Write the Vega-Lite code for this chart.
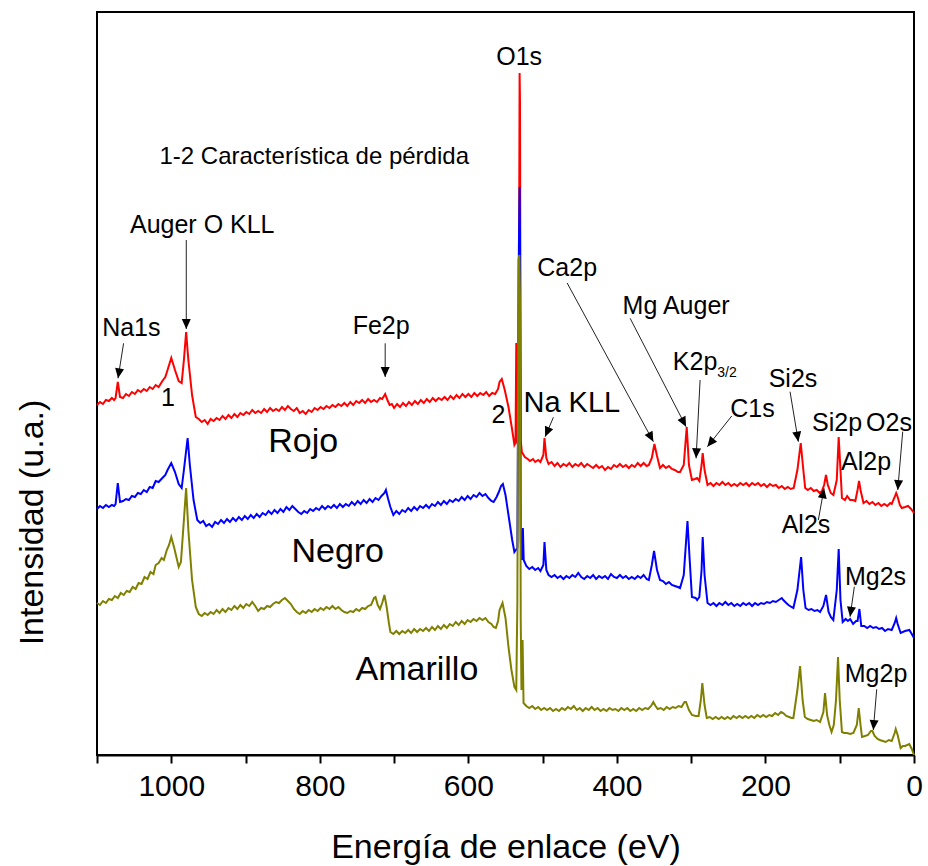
{
 "$schema": "https://vega.github.io/schema/vega-lite/v6.json",
 "width": 817,
 "height": 743,
 "autosize": {"type": "none"},
 "padding": {"left": 97, "top": 12, "right": 14, "bottom": 111},
 "background": "white",
 "config": {
  "view": {"stroke": "black", "strokeWidth": 2},
  "font": "Liberation Sans",
  "axis": {"grid": false}
 },
 "datasets": {
  "rojo": [
   {"E":1100,"I":350},{"E":1096,"I":353},{"E":1092,"I":351},{"E":1088,"I":355},{"E":1084,"I":354},{"E":1080,"I":357},{"E":1077,"I":355},{"E":1075,"I":357},{"E":1072,"I":373},{"E":1069,"I":358},{"E":1065,"I":357},{"E":1061,"I":361},{"E":1057,"I":359},{"E":1053,"I":363},{"E":1049,"I":361},{"E":1045,"I":365},{"E":1041,"I":363},{"E":1037,"I":366},{"E":1033,"I":364},{"E":1029,"I":368},{"E":1025,"I":366},{"E":1021,"I":370},{"E":1017,"I":368},{"E":1012,"I":374},{"E":1008,"I":378},{"E":1005,"I":385},{"E":1000,"I":397},{"E":995,"I":385},{"E":990,"I":374},{"E":986,"I":372},{"E":983,"I":395},{"E":980,"I":423},{"E":977,"I":395},{"E":972,"I":360},{"E":967,"I":338},{"E":963,"I":336},{"E":959,"I":333},{"E":955,"I":335},{"E":951,"I":331},{"E":947,"I":336},{"E":943,"I":334},{"E":939,"I":337},{"E":935,"I":335},{"E":931,"I":339},{"E":927,"I":336},{"E":923,"I":340},{"E":919,"I":337},{"E":915,"I":341},{"E":911,"I":338},{"E":907,"I":342},{"E":903,"I":340},{"E":899,"I":343},{"E":895,"I":341},{"E":891,"I":345},{"E":887,"I":342},{"E":883,"I":344},{"E":879,"I":342},{"E":875,"I":346},{"E":871,"I":343},{"E":867,"I":347},{"E":863,"I":344},{"E":859,"I":346},{"E":855,"I":344},{"E":851,"I":348},{"E":847,"I":345},{"E":843,"I":349},{"E":839,"I":346},{"E":835,"I":344},{"E":831,"I":347},{"E":827,"I":342},{"E":823,"I":344},{"E":819,"I":341},{"E":815,"I":345},{"E":811,"I":343},{"E":807,"I":347},{"E":803,"I":345},{"E":799,"I":348},{"E":795,"I":346},{"E":791,"I":349},{"E":787,"I":347},{"E":783,"I":350},{"E":779,"I":348},{"E":775,"I":351},{"E":771,"I":349},{"E":767,"I":352},{"E":763,"I":349},{"E":759,"I":353},{"E":755,"I":350},{"E":751,"I":354},{"E":747,"I":352},{"E":743,"I":355},{"E":739,"I":352},{"E":735,"I":356},{"E":731,"I":353},{"E":727,"I":355},{"E":723,"I":353},{"E":719,"I":357},{"E":716,"I":356},{"E":712,"I":361},{"E":709,"I":355},{"E":706,"I":350},{"E":703,"I":351},{"E":700,"I":347},{"E":696,"I":351},{"E":692,"I":348},{"E":688,"I":352},{"E":684,"I":349},{"E":680,"I":353},{"E":676,"I":350},{"E":672,"I":354},{"E":668,"I":351},{"E":664,"I":355},{"E":660,"I":352},{"E":656,"I":356},{"E":652,"I":353},{"E":648,"I":357},{"E":644,"I":354},{"E":640,"I":357},{"E":636,"I":355},{"E":632,"I":358},{"E":628,"I":355},{"E":624,"I":359},{"E":620,"I":356},{"E":616,"I":360},{"E":612,"I":357},{"E":608,"I":361},{"E":604,"I":358},{"E":600,"I":361},{"E":596,"I":358},{"E":592,"I":362},{"E":588,"I":359},{"E":584,"I":362},{"E":580,"I":360},{"E":576,"I":363},{"E":572,"I":359},{"E":568,"I":362},{"E":564,"I":361},{"E":560,"I":366},{"E":558,"I":373},{"E":555,"I":376},{"E":551,"I":365},{"E":546,"I":348},{"E":541,"I":325},{"E":538,"I":310},{"E":536.5,"I":312},{"E":535.5,"I":412},{"E":534.5,"I":315},{"E":533,"I":310},{"E":531.5,"I":555},{"E":531,"I":682},{"E":530.5,"I":655},{"E":529.5,"I":315},{"E":528,"I":303},{"E":524,"I":298},{"E":520,"I":296},{"E":517,"I":294},{"E":513,"I":296},{"E":510,"I":293},{"E":506,"I":295},{"E":503,"I":293},{"E":499,"I":300},{"E":497.5,"I":317},{"E":495,"I":297},{"E":492,"I":291},{"E":488,"I":293},{"E":484,"I":289},{"E":480,"I":292},{"E":476,"I":288},{"E":472,"I":291},{"E":468,"I":289},{"E":464,"I":292},{"E":460,"I":288},{"E":456,"I":291},{"E":452,"I":289},{"E":448,"I":292},{"E":444,"I":288},{"E":440,"I":291},{"E":436,"I":289},{"E":432,"I":287},{"E":428,"I":290},{"E":424,"I":287},{"E":420,"I":289},{"E":416,"I":285},{"E":412,"I":288},{"E":408,"I":286},{"E":404,"I":290},{"E":400,"I":288},{"E":396,"I":291},{"E":392,"I":288},{"E":388,"I":290},{"E":384,"I":287},{"E":380,"I":290},{"E":376,"I":288},{"E":372,"I":292},{"E":368,"I":289},{"E":364,"I":292},{"E":360,"I":289},{"E":357,"I":290},{"E":353,"I":297},{"E":349.5,"I":311},{"E":346,"I":299},{"E":342,"I":287},{"E":338,"I":290},{"E":334,"I":287},{"E":330,"I":289},{"E":326,"I":286},{"E":322,"I":285},{"E":318,"I":283},{"E":315,"I":283},{"E":310,"I":290},{"E":306,"I":328},{"E":303,"I":290},{"E":299,"I":275},{"E":295,"I":276},{"E":292,"I":277},{"E":289,"I":274},{"E":286,"I":290},{"E":284.5,"I":302},{"E":282,"I":285},{"E":278,"I":270},{"E":274,"I":272},{"E":270,"I":269},{"E":266,"I":272},{"E":262,"I":270},{"E":258,"I":273},{"E":254,"I":270},{"E":250,"I":272},{"E":246,"I":269},{"E":242,"I":271},{"E":238,"I":269},{"E":234,"I":272},{"E":230,"I":270},{"E":226,"I":272},{"E":222,"I":269},{"E":218,"I":272},{"E":214,"I":270},{"E":210,"I":272},{"E":206,"I":269},{"E":202,"I":271},{"E":198,"I":268},{"E":194,"I":271},{"E":190,"I":269},{"E":186,"I":270},{"E":182,"I":267},{"E":178,"I":269},{"E":174,"I":266},{"E":170,"I":268},{"E":166,"I":266},{"E":162,"I":267},{"E":157,"I":285},{"E":152.5,"I":312},{"E":149,"I":285},{"E":146.5,"I":267},{"E":143,"I":265},{"E":139,"I":267},{"E":135,"I":264},{"E":131,"I":265},{"E":127,"I":262},{"E":124,"I":264},{"E":121,"I":270},{"E":118.5,"I":280},{"E":116,"I":270},{"E":112,"I":262},{"E":108.5,"I":260},{"E":104,"I":275},{"E":101.4,"I":318},{"E":99,"I":285},{"E":97,"I":257},{"E":93,"I":255},{"E":90,"I":259},{"E":88,"I":257},{"E":86,"I":255},{"E":82,"I":255},{"E":79,"I":254},{"E":76,"I":265},{"E":74,"I":274},{"E":72,"I":265},{"E":68,"I":252},{"E":64,"I":254},{"E":60,"I":251},{"E":56,"I":253},{"E":52,"I":250},{"E":48,"I":252},{"E":44,"I":249},{"E":40,"I":251},{"E":36,"I":249},{"E":32,"I":252},{"E":30,"I":251},{"E":26,"I":258},{"E":24,"I":262},{"E":22,"I":258},{"E":19,"I":250},{"E":16.5,"I":247},{"E":12,"I":248},{"E":8,"I":249},{"E":4,"I":246},{"E":0,"I":242}
  ],
  "negro": [
   {"E":1100,"I":246},{"E":1096,"I":249},{"E":1092,"I":247},{"E":1088,"I":250},{"E":1084,"I":248},{"E":1080,"I":250},{"E":1077,"I":249},{"E":1075,"I":251},{"E":1072,"I":272},{"E":1069,"I":253},{"E":1065,"I":254},{"E":1061,"I":256},{"E":1057,"I":255},{"E":1053,"I":259},{"E":1049,"I":258},{"E":1045,"I":262},{"E":1041,"I":261},{"E":1037,"I":265},{"E":1033,"I":263},{"E":1029,"I":268},{"E":1025,"I":267},{"E":1021,"I":274},{"E":1017,"I":273},{"E":1012,"I":277},{"E":1008,"I":280},{"E":1005,"I":285},{"E":1000,"I":292},{"E":995,"I":283},{"E":990,"I":271},{"E":986,"I":267},{"E":983,"I":285},{"E":978,"I":317},{"E":975,"I":290},{"E":970,"I":255},{"E":965,"I":235},{"E":961,"I":232},{"E":957,"I":234},{"E":953,"I":229},{"E":949,"I":231},{"E":945,"I":228},{"E":941,"I":233},{"E":937,"I":231},{"E":933,"I":235},{"E":929,"I":232},{"E":925,"I":236},{"E":921,"I":233},{"E":917,"I":237},{"E":913,"I":234},{"E":909,"I":238},{"E":905,"I":235},{"E":901,"I":239},{"E":897,"I":236},{"E":893,"I":240},{"E":889,"I":237},{"E":885,"I":241},{"E":881,"I":238},{"E":877,"I":242},{"E":873,"I":240},{"E":869,"I":244},{"E":865,"I":241},{"E":861,"I":245},{"E":857,"I":242},{"E":853,"I":246},{"E":849,"I":243},{"E":845,"I":248},{"E":841,"I":245},{"E":837,"I":249},{"E":833,"I":246},{"E":829,"I":243},{"E":825,"I":241},{"E":821,"I":244},{"E":817,"I":242},{"E":813,"I":246},{"E":809,"I":244},{"E":805,"I":247},{"E":801,"I":245},{"E":797,"I":249},{"E":793,"I":246},{"E":789,"I":249},{"E":785,"I":247},{"E":781,"I":250},{"E":777,"I":247},{"E":773,"I":251},{"E":769,"I":248},{"E":765,"I":251},{"E":761,"I":249},{"E":757,"I":253},{"E":753,"I":250},{"E":749,"I":254},{"E":745,"I":251},{"E":741,"I":255},{"E":737,"I":252},{"E":733,"I":256},{"E":729,"I":253},{"E":725,"I":257},{"E":721,"I":255},{"E":717,"I":259},{"E":713,"I":262},{"E":711,"I":265},{"E":708,"I":256},{"E":705,"I":248},{"E":701,"I":240},{"E":697,"I":244},{"E":693,"I":241},{"E":689,"I":245},{"E":685,"I":243},{"E":681,"I":247},{"E":677,"I":244},{"E":673,"I":248},{"E":669,"I":245},{"E":665,"I":249},{"E":661,"I":247},{"E":657,"I":250},{"E":653,"I":247},{"E":649,"I":251},{"E":645,"I":249},{"E":641,"I":253},{"E":637,"I":250},{"E":633,"I":254},{"E":629,"I":251},{"E":625,"I":255},{"E":621,"I":253},{"E":617,"I":256},{"E":613,"I":254},{"E":609,"I":258},{"E":605,"I":255},{"E":601,"I":259},{"E":597,"I":256},{"E":593,"I":260},{"E":589,"I":258},{"E":585,"I":262},{"E":581,"I":259},{"E":577,"I":261},{"E":573,"I":257},{"E":569,"I":254},{"E":566,"I":253},{"E":562,"I":258},{"E":559,"I":263},{"E":556,"I":269},{"E":553.5,"I":271},{"E":550,"I":260},{"E":545,"I":235},{"E":541,"I":215},{"E":538,"I":203},{"E":536,"I":205},{"E":534,"I":207},{"E":532,"I":505},{"E":531,"I":568},{"E":530.5,"I":525},{"E":529.5,"I":215},{"E":528,"I":195},{"E":526.6,"I":227},{"E":525.5,"I":195},{"E":522,"I":189},{"E":518,"I":186},{"E":514,"I":188},{"E":510,"I":185},{"E":506,"I":187},{"E":503,"I":184},{"E":499,"I":190},{"E":497.5,"I":213},{"E":495,"I":185},{"E":492,"I":180},{"E":488,"I":178},{"E":484,"I":180},{"E":480,"I":177},{"E":476,"I":179},{"E":472,"I":176},{"E":468,"I":179},{"E":464,"I":177},{"E":460,"I":180},{"E":456,"I":178},{"E":452,"I":182},{"E":448,"I":178},{"E":444,"I":176},{"E":440,"I":179},{"E":436,"I":177},{"E":432,"I":180},{"E":428,"I":176},{"E":424,"I":179},{"E":420,"I":177},{"E":416,"I":179},{"E":412,"I":176},{"E":408,"I":181},{"E":404,"I":178},{"E":400,"I":177},{"E":396,"I":180},{"E":392,"I":177},{"E":388,"I":179},{"E":384,"I":176},{"E":380,"I":178},{"E":376,"I":176},{"E":372,"I":179},{"E":368,"I":177},{"E":364,"I":180},{"E":360,"I":176},{"E":357,"I":175},{"E":353,"I":190},{"E":350,"I":204},{"E":346,"I":185},{"E":342,"I":175},{"E":338,"I":174},{"E":334,"I":171},{"E":330,"I":173},{"E":326,"I":170},{"E":322,"I":169},{"E":318,"I":168},{"E":315,"I":167},{"E":310,"I":180},{"E":305,"I":234},{"E":302,"I":195},{"E":299,"I":158},{"E":294,"I":157},{"E":292,"I":155},{"E":289,"I":158},{"E":286,"I":185},{"E":284.5,"I":218},{"E":282,"I":180},{"E":278,"I":152},{"E":274,"I":150},{"E":270,"I":152},{"E":266,"I":149},{"E":262,"I":152},{"E":258,"I":150},{"E":254,"I":153},{"E":250,"I":150},{"E":246,"I":152},{"E":242,"I":149},{"E":238,"I":151},{"E":234,"I":149},{"E":230,"I":152},{"E":226,"I":150},{"E":222,"I":152},{"E":218,"I":149},{"E":214,"I":152},{"E":210,"I":150},{"E":206,"I":152},{"E":202,"I":151},{"E":198,"I":153},{"E":194,"I":152},{"E":190,"I":154},{"E":186,"I":153},{"E":182,"I":155},{"E":178,"I":157},{"E":176,"I":155},{"E":172,"I":152},{"E":169,"I":150},{"E":165,"I":148},{"E":162.4,"I":147},{"E":157,"I":165},{"E":152,"I":198},{"E":149,"I":165},{"E":146,"I":147},{"E":142,"I":145},{"E":138,"I":146},{"E":134,"I":144},{"E":130,"I":145},{"E":126.5,"I":143},{"E":122,"I":149},{"E":118.4,"I":160},{"E":115,"I":143},{"E":112,"I":138},{"E":108.6,"I":135},{"E":104,"I":165},{"E":101.4,"I":206},{"E":99,"I":155},{"E":96,"I":133},{"E":92,"I":136},{"E":89,"I":134},{"E":86,"I":136},{"E":82,"I":131},{"E":78,"I":134},{"E":76,"I":134},{"E":73.5,"I":146},{"E":71,"I":129},{"E":67,"I":129},{"E":63,"I":127},{"E":59,"I":129},{"E":55,"I":127},{"E":51,"I":128},{"E":47,"I":126},{"E":43,"I":127},{"E":39,"I":124},{"E":35,"I":126},{"E":30,"I":125},{"E":26,"I":132},{"E":24,"I":137},{"E":22,"I":131},{"E":18,"I":122},{"E":12,"I":124},{"E":6.3,"I":125},{"E":3,"I":121},{"E":0,"I":117}
  ],
  "amarillo": [
   {"E":1100,"I":152},{"E":1096,"I":150},{"E":1092,"I":154},{"E":1088,"I":152},{"E":1084,"I":156},{"E":1080,"I":155},{"E":1076,"I":159},{"E":1072,"I":157},{"E":1068,"I":162},{"E":1064,"I":160},{"E":1060,"I":164},{"E":1056,"I":163},{"E":1052,"I":168},{"E":1048,"I":166},{"E":1044,"I":172},{"E":1040,"I":171},{"E":1036,"I":178},{"E":1032,"I":176},{"E":1028,"I":183},{"E":1024,"I":181},{"E":1021,"I":190},{"E":1017,"I":192},{"E":1013,"I":197},{"E":1010,"I":195},{"E":1006,"I":205},{"E":1003,"I":210},{"E":1000,"I":218},{"E":996,"I":207},{"E":990,"I":188},{"E":987,"I":193},{"E":983,"I":235},{"E":980,"I":267},{"E":977,"I":225},{"E":972,"I":175},{"E":967,"I":148},{"E":963,"I":141},{"E":959,"I":139},{"E":955,"I":142},{"E":951,"I":140},{"E":947,"I":143},{"E":943,"I":141},{"E":939,"I":145},{"E":935,"I":142},{"E":931,"I":146},{"E":927,"I":143},{"E":923,"I":147},{"E":919,"I":145},{"E":915,"I":149},{"E":911,"I":146},{"E":907,"I":150},{"E":903,"I":147},{"E":899,"I":151},{"E":895,"I":149},{"E":891,"I":153},{"E":887,"I":149},{"E":883,"I":144},{"E":879,"I":147},{"E":875,"I":146},{"E":871,"I":149},{"E":867,"I":148},{"E":863,"I":151},{"E":859,"I":153},{"E":855,"I":152},{"E":851,"I":155},{"E":847,"I":157},{"E":843,"I":154},{"E":839,"I":151},{"E":835,"I":146},{"E":831,"I":143},{"E":827,"I":141},{"E":823,"I":144},{"E":819,"I":142},{"E":815,"I":145},{"E":811,"I":143},{"E":807,"I":146},{"E":803,"I":144},{"E":799,"I":147},{"E":795,"I":145},{"E":791,"I":148},{"E":787,"I":146},{"E":783,"I":149},{"E":779,"I":146},{"E":775,"I":148},{"E":771,"I":145},{"E":767,"I":143},{"E":763,"I":142},{"E":759,"I":144},{"E":755,"I":143},{"E":751,"I":146},{"E":747,"I":144},{"E":743,"I":147},{"E":739,"I":146},{"E":735,"I":149},{"E":731,"I":150},{"E":727,"I":157},{"E":725,"I":158},{"E":722,"I":150},{"E":719,"I":146},{"E":716,"I":152},{"E":713,"I":160},{"E":710,"I":148},{"E":707,"I":132},{"E":705,"I":123},{"E":701,"I":121},{"E":697,"I":124},{"E":693,"I":121},{"E":689,"I":124},{"E":685,"I":122},{"E":681,"I":125},{"E":677,"I":122},{"E":673,"I":126},{"E":669,"I":123},{"E":665,"I":126},{"E":661,"I":124},{"E":657,"I":127},{"E":653,"I":124},{"E":649,"I":128},{"E":645,"I":125},{"E":641,"I":129},{"E":637,"I":126},{"E":633,"I":130},{"E":629,"I":127},{"E":625,"I":131},{"E":621,"I":129},{"E":617,"I":133},{"E":613,"I":130},{"E":609,"I":134},{"E":605,"I":131},{"E":601,"I":135},{"E":597,"I":133},{"E":593,"I":136},{"E":589,"I":134},{"E":585,"I":137},{"E":581,"I":135},{"E":577,"I":137},{"E":573,"I":133},{"E":569,"I":131},{"E":566,"I":128},{"E":563,"I":127},{"E":560,"I":134},{"E":558,"I":145},{"E":554,"I":152},{"E":550,"I":137},{"E":546,"I":108},{"E":542,"I":85},{"E":538,"I":68},{"E":535.5,"I":65},{"E":534,"I":155},{"E":532.5,"I":495},{"E":531.3,"I":500},{"E":530.5,"I":455},{"E":529.5,"I":135},{"E":528.5,"I":65},{"E":527,"I":115},{"E":525.7,"I":52},{"E":522,"I":49},{"E":518,"I":47},{"E":514,"I":49},{"E":510,"I":46},{"E":506,"I":48},{"E":502,"I":45},{"E":498,"I":47},{"E":494,"I":45},{"E":490,"I":47},{"E":486,"I":44},{"E":482,"I":46},{"E":478,"I":44},{"E":474,"I":47},{"E":470,"I":45},{"E":466,"I":48},{"E":462,"I":46},{"E":458,"I":49},{"E":454,"I":45},{"E":450,"I":47},{"E":446,"I":44},{"E":442,"I":47},{"E":438,"I":45},{"E":434,"I":48},{"E":430,"I":45},{"E":426,"I":47},{"E":422,"I":44},{"E":418,"I":46},{"E":414,"I":44},{"E":410,"I":47},{"E":406,"I":45},{"E":402,"I":46},{"E":398,"I":44},{"E":394,"I":47},{"E":390,"I":45},{"E":386,"I":47},{"E":382,"I":44},{"E":378,"I":46},{"E":374,"I":44},{"E":370,"I":47},{"E":366,"I":45},{"E":362,"I":47},{"E":358,"I":46},{"E":354,"I":49},{"E":351,"I":53},{"E":348,"I":49},{"E":345,"I":46},{"E":341,"I":47},{"E":337,"I":45},{"E":333,"I":48},{"E":329,"I":46},{"E":325,"I":48},{"E":321,"I":47},{"E":317,"I":49},{"E":313,"I":48},{"E":309,"I":53},{"E":307,"I":53},{"E":303,"I":45},{"E":299,"I":40},{"E":294,"I":39},{"E":290,"I":39},{"E":287,"I":55},{"E":285,"I":72},{"E":282,"I":50},{"E":279,"I":37},{"E":275,"I":38},{"E":271,"I":36},{"E":267,"I":38},{"E":263,"I":36},{"E":259,"I":38},{"E":255,"I":36},{"E":251,"I":38},{"E":247,"I":36},{"E":243,"I":39},{"E":239,"I":37},{"E":235,"I":39},{"E":231,"I":37},{"E":227,"I":39},{"E":223,"I":37},{"E":219,"I":39},{"E":215,"I":37},{"E":211,"I":40},{"E":207,"I":38},{"E":203,"I":40},{"E":199,"I":38},{"E":195,"I":40},{"E":191,"I":39},{"E":187,"I":42},{"E":183,"I":40},{"E":179,"I":43},{"E":176,"I":42},{"E":172,"I":39},{"E":168,"I":38},{"E":165,"I":37},{"E":162.4,"I":37},{"E":157,"I":65},{"E":153.4,"I":89},{"E":150,"I":55},{"E":147,"I":38},{"E":143,"I":36},{"E":139,"I":35},{"E":135,"I":34},{"E":131,"I":35},{"E":126.5,"I":33},{"E":122,"I":43},{"E":119.8,"I":62},{"E":117,"I":40},{"E":114,"I":30},{"E":111,"I":23},{"E":108,"I":30},{"E":105,"I":55},{"E":102.3,"I":98},{"E":100,"I":55},{"E":97,"I":23},{"E":94,"I":22},{"E":90,"I":22},{"E":86,"I":21},{"E":81.6,"I":22},{"E":77,"I":30},{"E":74.4,"I":47},{"E":72,"I":30},{"E":70,"I":18},{"E":66,"I":19},{"E":62,"I":20},{"E":58,"I":24},{"E":56,"I":24},{"E":53,"I":19},{"E":49,"I":16},{"E":46,"I":15},{"E":42,"I":14},{"E":38,"I":13},{"E":34,"I":15},{"E":30,"I":14},{"E":26,"I":22},{"E":24.6,"I":26},{"E":22,"I":20},{"E":18,"I":7},{"E":15,"I":9},{"E":12,"I":9},{"E":6.3,"I":11},{"E":3,"I":6},{"E":0,"I":0}
  ],
  "flechas": [
   {"E0":1064.2,"I0":411.7,"E":1071.7,"I":376.7},
   {"E0":979.8,"I0":515,"E":979.8,"I":426},
   {"E0":712,"I0":411.7,"E":712,"I":378},
   {"E0":467,"I0":472,"E":350.9,"I":313.3},
   {"E0":382.2,"I0":436.7,"E":306.9,"I":328.3},
   {"E0":288,"I0":375,"E":293.4,"I":296.7},
   {"E0":245.4,"I0":339,"E":278.2,"I":308.3},
   {"E0":166.9,"I0":363.3,"E":155.7,"I":313.3},
   {"E0":15.2,"I0":323.3,"E":21.9,"I":265},
   {"E0":128.8,"I0":235,"E":121.1,"I":266.7},
   {"E0":80.3,"I0":168.3,"E":86.1,"I":138.3},
   {"E0":50.2,"I0":65.7,"E":54.8,"I":25},
   {"E0":485.5,"I0":337.7,"E":496.6,"I":318.3}
  ],
  "etiquetas": [
   {"E":958.3,"I":530,"t":"Auger O KLL"},
   {"E":1053.8,"I":427,"t":"Na1s"},
   {"E":717.4,"I":429,"t":"Fe2p"},
   {"E":531.6,"I":698,"t":"O1s"},
   {"E":467,"I":487,"t":"Ca2p"},
   {"E":320.3,"I":449,"t":"Mg Auger"},
   {"E":294.8,"I":393,"t":"K2p"},
   {"E":217.4,"I":346,"t":"C1s"},
   {"E":162.9,"I":376,"t":"Si2s"},
   {"E":103.6,"I":332,"t":"Si2p"},
   {"E":33.6,"I":332,"t":"O2s"},
   {"E":64.6,"I":293,"t":"Al2p"},
   {"E":145.4,"I":230,"t":"Al2s"},
   {"E":51.8,"I":178,"t":"Mg2s"},
   {"E":51.1,"I":81,"t":"Mg2p"},
   {"E":559.5,"I":340,"t":"2"},
   {"E":1004.4,"I":357,"t":"1"}
  ],
  "muestras": [
   {"E":822.3,"I":313,"t":"Rojo"},
   {"E":775.9,"I":203,"t":"Negro"},
   {"E":669.3,"I":85,"t":"Amarillo"}
  ],
  "nota": [{"E":807.5,"I":598,"t":"1-2 Característica de pérdida"}],
  "nakll": [{"E":460.7,"I":352,"t":"Na KLL"}],
  "sub": [{"E":251.7,"I":382,"t":"3/2"}]
 },
 "layer": [
  {
   "data": {"name": "rojo"},
   "mark": {"type": "line", "color": "#ff0000", "strokeWidth": 2},
   "encoding": {
    "x": {"field": "E", "type": "quantitative",
     "scale": {"domain": [0, 1100], "reverse": true, "nice": false, "zero": false},
     "axis": {"title": "Energía de enlace (eV)", "values": [0,100,200,300,400,500,600,700,800,900,1000,1100],
      "labelExpr": "datum.value % 200 === 0 && datum.value < 1100 ? datum.label : ''",
      "format": "d", "labelFlush": false, "labelOverlap": false, "labelBound": false,
      "labelFontSize": 30, "labelFont": "Liberation Sans", "labelColor": "black", "labelPadding": 8,
      "tickSize": 8, "tickWidth": 2, "tickColor": "black", "domainColor": "black", "domainWidth": 2,
      "titleFontSize": 34, "titleFont": "Liberation Sans", "titleFontWeight": "normal", "titleColor": "black",
      "titleY": 92, "titleBaseline": "middle"}},
    "y": {"field": "I", "type": "quantitative",
     "scale": {"domain": [0, 743], "nice": false, "zero": false},
     "axis": {"title": "Intensidad (u.a.)", "labels": false, "ticks": false, "domain": false,
      "titleFontSize": 34, "titleFont": "Liberation Sans", "titleFontWeight": "normal", "titleColor": "black",
      "titleX": -65, "titleY": 510, "titleAngle": -90, "titleAlign": "center", "titleBaseline": "middle"}}
   }
  },
  {
   "data": {"name": "negro"},
   "mark": {"type": "line", "color": "#0000ff", "strokeWidth": 2},
   "encoding": {"x": {"field": "E", "type": "quantitative"}, "y": {"field": "I", "type": "quantitative"}}
  },
  {
   "data": {"name": "amarillo"},
   "mark": {"type": "line", "color": "#808000", "strokeWidth": 2},
   "encoding": {"x": {"field": "E", "type": "quantitative"}, "y": {"field": "I", "type": "quantitative"}}
  },
  {
   "data": {"name": "flechas"},
   "mark": {"type": "rule", "color": "#222222", "strokeWidth": 1},
   "encoding": {"x": {"field": "E0", "type": "quantitative"}, "y": {"field": "I0", "type": "quantitative"},
    "x2": {"field": "E"}, "y2": {"field": "I"}}
  },
  {
   "data": {"name": "flechas"},
   "transform": [{"calculate": "atan2((datum.E - datum.E0) * 0.74273, -(datum.I - datum.I0)) * 180 / PI", "as": "ang"}],
   "mark": {"type": "point", "shape": "M0,0L-0.45,-1L0.45,-1Z", "filled": true, "color": "black", "opacity": 1, "size": 400},
   "encoding": {"x": {"field": "E", "type": "quantitative"}, "y": {"field": "I", "type": "quantitative"},
    "angle": {"field": "ang", "type": "quantitative", "scale": null}}
  },
  {
   "data": {"name": "etiquetas"},
   "mark": {"type": "text", "fontSize": 25, "font": "Liberation Sans", "color": "black", "align": "center", "baseline": "middle"},
   "encoding": {"x": {"field": "E", "type": "quantitative"}, "y": {"field": "I", "type": "quantitative"}, "text": {"field": "t"}}
  },
  {
   "data": {"name": "muestras"},
   "mark": {"type": "text", "fontSize": 34, "font": "Liberation Sans", "color": "black", "align": "center", "baseline": "middle"},
   "encoding": {"x": {"field": "E", "type": "quantitative"}, "y": {"field": "I", "type": "quantitative"}, "text": {"field": "t"}}
  },
  {
   "data": {"name": "nota"},
   "mark": {"type": "text", "fontSize": 24, "font": "Liberation Sans", "color": "black", "align": "center", "baseline": "middle"},
   "encoding": {"x": {"field": "E", "type": "quantitative"}, "y": {"field": "I", "type": "quantitative"}, "text": {"field": "t"}}
  },
  {
   "data": {"name": "nakll"},
   "mark": {"type": "text", "fontSize": 29, "font": "Liberation Sans", "color": "black", "align": "center", "baseline": "middle"},
   "encoding": {"x": {"field": "E", "type": "quantitative"}, "y": {"field": "I", "type": "quantitative"}, "text": {"field": "t"}}
  },
  {
   "data": {"name": "sub"},
   "mark": {"type": "text", "fontSize": 14, "font": "Liberation Sans", "color": "black", "align": "center", "baseline": "middle"},
   "encoding": {"x": {"field": "E", "type": "quantitative"}, "y": {"field": "I", "type": "quantitative"}, "text": {"field": "t"}}
  }
 ]
}
